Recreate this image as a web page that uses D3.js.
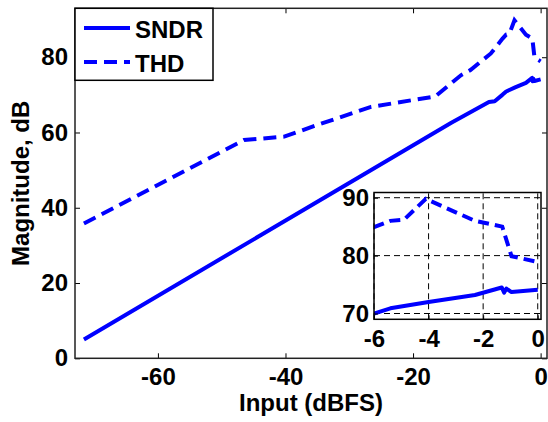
<!DOCTYPE html>
<html>
<head>
<meta charset="utf-8">
<script src="https://cdn.jsdelivr.net/npm/d3@7"></script>
<style>
  body { margin: 0; background: #fff; }
  svg text { font-family: "Liberation Sans", Arial, sans-serif; font-weight: bold; fill: #000; }
</style>
</head>
<body>
<svg id="chart" width="548" height="422"></svg>
<script>
// ---- data ----
const sndrInput = [-71.6, -14, -8.1, -7.2, -6, -5.4, -4, -2.3, -1.32, -1.23, -1.15, -0.96, 0];
const sndrDb    = [5.0, 62.6, 68.1, 68.3, 70, 70.9, 72, 73.2, 74.5, 73.6, 74.3, 73.7, 74.1];

const thdInput = [-71.6, -46.5, -40.2, -35, -26.6, -16.5, -12.5, -11, -7.8, -6, -5.4, -4.9, -4.1, -2.3, -1.3, -0.96, 0];
const thdDb    = [35.8, 58, 58.9, 62, 66.8, 69.6, 75.2, 76.6, 81, 84.9, 86, 86.2, 89.8, 86, 85, 79.9, 78.9];

const mainXTicks = [-60, -40, -20, 0];
const mainYTicks = [0, 20, 40, 60, 80];
const insetXTicks = [-6, -4, -2, 0];
const insetYTicks = [70, 80, 90];

const seriesNames = ['SNDR', 'THD'];

// ---- setup ----
const svg = d3.select('#chart');
const blue = '#0000ff';
const fmt = (d) => String(d);

const sndr = sndrInput.map((x, i) => [x, sndrDb[i]]);
const thd = thdInput.map((x, i) => [x, thdDb[i]]);

// main axes
const x = d3.scaleLinear().domain([-73, 1]).range([75, 547]);
const y = d3.scaleLinear().domain([0, 93]).range([358.3, 8.3]);

const line = d3.line().x((d) => x(d[0])).y((d) => y(d[1]));

svg.append('path').datum(sndr)
  .attr('d', line).attr('fill', 'none')
  .attr('stroke', blue).attr('stroke-width', 4).attr('stroke-linejoin', 'round');

svg.append('path').datum(thd)
  .attr('d', line).attr('fill', 'none')
  .attr('stroke', blue).attr('stroke-width', 4)
  .attr('stroke-dasharray', '13,7');

function styleAxis(g) {
  g.select('.domain').remove();
  g.selectAll('line').attr('stroke', '#000').attr('stroke-width', 1);
  g.selectAll('text').attr('font-size', 24).attr('font-family', null);
}

svg.append('g').attr('transform', `translate(0,${y.range()[0]})`)
  .call(d3.axisBottom(x).tickValues(mainXTicks).tickFormat(fmt).tickSize(-5).tickPadding(10))
  .call(styleAxis);
svg.append('g').attr('transform', `translate(0,${y.range()[1]})`)
  .call(d3.axisTop(x).tickValues(mainXTicks).tickFormat('').tickSize(-5))
  .call(styleAxis);
svg.append('g').attr('transform', `translate(${x.range()[0]},0)`)
  .call(d3.axisLeft(y).tickValues(mainYTicks).tickFormat(fmt).tickSize(-5).tickPadding(7))
  .call(styleAxis);
svg.append('g').attr('transform', `translate(${x.range()[1]},0)`)
  .call(d3.axisRight(y).tickValues(mainYTicks).tickFormat('').tickSize(-5))
  .call(styleAxis);

svg.append('rect')
  .attr('x', x.range()[0]).attr('y', y.range()[1])
  .attr('width', x.range()[1] - x.range()[0]).attr('height', y.range()[0] - y.range()[1])
  .attr('fill', 'none').attr('stroke', '#222').attr('stroke-width', 1.5);

// axis titles
svg.append('text')
  .attr('x', (x.range()[0] + x.range()[1]) / 2).attr('y', 411)
  .attr('text-anchor', 'middle').attr('font-size', 24)
  .text('Input (dBFS)');
svg.append('text')
  .attr('transform', `translate(29,${(y.range()[0] + y.range()[1]) / 2}) rotate(-90)`)
  .attr('text-anchor', 'middle').attr('font-size', 24)
  .text('Magnitude, dB');

// legend
const legend = svg.append('g');
legend.append('rect')
  .attr('x', 75).attr('y', 8.3).attr('width', 138).attr('height', 72)
  .attr('fill', '#fff').attr('stroke', '#000').attr('stroke-width', 1.5);
seriesNames.forEach((name, i) => {
  const ly = 28 + i * 34;
  legend.append('line')
    .attr('x1', 84).attr('x2', 130).attr('y1', ly).attr('y2', ly)
    .attr('stroke', blue).attr('stroke-width', 4)
    .attr('stroke-dasharray', i === 1 ? '13,7' : null);
  legend.append('text')
    .attr('x', 135).attr('y', ly + 10).attr('font-size', 24)
    .text(name);
});

// ---- inset ----
const ix = d3.scaleLinear().domain([-6, 0.12]).range([374, 541]);
const iy = d3.scaleLinear().domain([69, 90.9]).range([319.3, 192.5]);

const inset = svg.append('g');
inset.append('rect')
  .attr('x', ix.range()[0]).attr('y', iy.range()[1])
  .attr('width', ix.range()[1] - ix.range()[0]).attr('height', iy.range()[0] - iy.range()[1])
  .attr('fill', '#fff');

inset.append('clipPath').attr('id', 'inset-clip')
  .append('rect')
  .attr('x', ix.range()[0]).attr('y', iy.range()[1])
  .attr('width', ix.range()[1] - ix.range()[0]).attr('height', iy.range()[0] - iy.range()[1]);

// grid
inset.selectAll('.vgrid').data(insetXTicks).join('line')
  .attr('x1', (d) => ix(d)).attr('x2', (d) => ix(d))
  .attr('y1', iy.range()[0]).attr('y2', iy.range()[1])
  .attr('stroke', '#000').attr('stroke-width', 1).attr('stroke-dasharray', '6,4');
inset.selectAll('.hgrid').data(insetYTicks).join('line')
  .attr('x1', ix.range()[0]).attr('x2', ix.range()[1])
  .attr('y1', (d) => iy(d)).attr('y2', (d) => iy(d))
  .attr('stroke', '#000').attr('stroke-width', 1).attr('stroke-dasharray', '6,4');

const iline = d3.line().x((d) => ix(d[0])).y((d) => iy(d[1]));
const clipped = inset.append('g').attr('clip-path', 'url(#inset-clip)');
clipped.append('path').datum(sndr)
  .attr('d', iline).attr('fill', 'none')
  .attr('stroke', blue).attr('stroke-width', 4).attr('stroke-linejoin', 'round');
clipped.append('path').datum(thd)
  .attr('d', iline).attr('fill', 'none')
  .attr('stroke', blue).attr('stroke-width', 4)
  .attr('stroke-dasharray', '11,6');

inset.append('g').attr('transform', `translate(0,${iy.range()[0]})`)
  .call(d3.axisBottom(ix).tickValues(insetXTicks).tickFormat(fmt).tickSize(-4).tickPadding(11))
  .call(styleAxis);
inset.append('g').attr('transform', `translate(${ix.range()[0]},0)`)
  .call(d3.axisLeft(iy).tickValues(insetYTicks).tickFormat(fmt).tickSize(-4).tickPadding(5))
  .call(styleAxis);

inset.append('rect')
  .attr('x', ix.range()[0]).attr('y', iy.range()[1])
  .attr('width', ix.range()[1] - ix.range()[0]).attr('height', iy.range()[0] - iy.range()[1])
  .attr('fill', 'none').attr('stroke', '#000').attr('stroke-width', 1.5);
</script>
</body>
</html>
